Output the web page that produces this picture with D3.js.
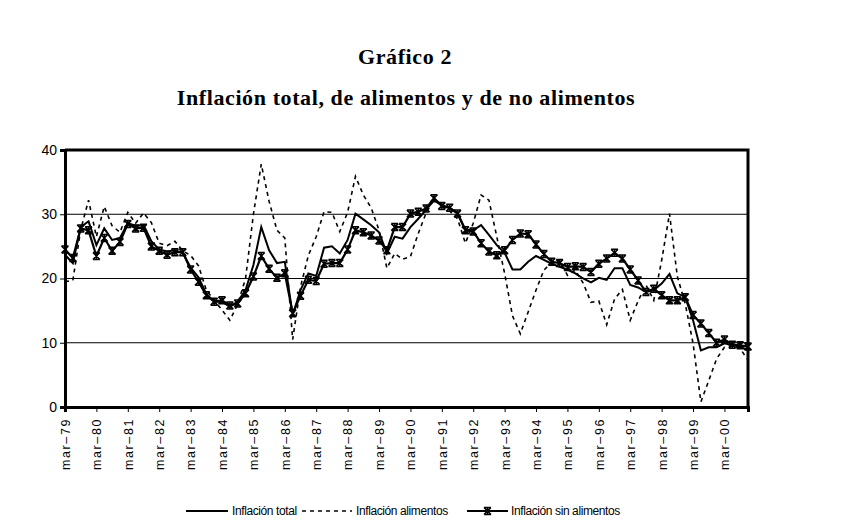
<!DOCTYPE html>
<html>
<head>
<meta charset="utf-8">
<script src="https://cdn.jsdelivr.net/npm/d3@7"></script>
<style>
  body { margin: 0; background: #fff; }
  svg { display: block; }
</style>
</head>
<body>
<svg id="chart"></svg>
<script>
// quarters from mar-79 to dic-00
const years = ["79","80","81","82","83","84","85","86","87","88","89","90","91","92","93","94","95","96","97","98","99","00"];
const months = ["mar","jun","sep","dic"];
const quarters = years.flatMap(y => months.map(m => m + "-" + y));

const yTicks = [0, 10, 20, 30, 40];

const total = [
  23.7, 22.4, 28.0, 28.9, 25.2, 27.8, 26.0, 26.3, 28.6, 28.2, 28.3, 25.8,
  24.5, 24.2, 24.4, 24.0, 21.7, 20.2, 17.6, 16.4, 16.4, 15.6, 16.4, 18.2,
  22.1, 28.0, 24.4, 22.4, 22.6, 14.3, 18.2, 20.8, 20.4, 24.8, 25.0, 23.9,
  26.0, 30.1, 29.2, 28.3, 27.2, 23.9, 26.5, 26.2, 28.0, 29.3, 30.7, 32.2,
  31.4, 31.0, 30.2, 27.6, 27.5, 28.3, 26.8, 25.2, 24.0, 21.4, 21.4, 22.6,
  23.5, 22.9, 22.3, 21.8, 21.4, 20.8, 20.0, 19.4, 20.1, 19.8, 21.6, 21.6,
  19.0, 18.6, 17.9, 18.2, 19.2, 20.7, 17.7, 17.1, 13.5, 8.8, 9.3, 9.3,
  9.9, 9.6, 9.4, 8.8
];

const alimentos = [
  19.5, 19.7, 27.6, 32.2, 26.5, 31.2, 28.2, 27.2, 30.3, 28.6, 30.2, 28.7,
  25.5, 25.1, 25.8, 24.3, 23.6, 22.0, 18.2, 16.6, 15.1, 13.5, 16.0, 20.0,
  30.0, 37.8, 32.0, 27.5, 26.3, 10.5, 18.7, 23.6, 26.5, 30.4, 30.3, 27.3,
  30.3, 35.9, 33.0, 31.0, 27.5, 21.6, 23.9, 23.0, 23.4, 27.0, 30.2, 32.3,
  31.3, 30.5, 29.3, 25.5, 28.6, 33.0, 32.2, 26.5, 20.8, 14.2, 11.4, 14.8,
  18.2, 21.3, 22.5, 22.8, 20.5, 21.3, 19.3, 16.3, 16.5, 12.8, 16.8, 18.3,
  13.5, 16.5, 19.0, 16.6, 22.8, 30.1, 20.3, 16.1, 9.9, 0.8, 4.1, 7.5,
  9.3, 9.6, 9.1, 7.3
];

const sinAlimentos = [
  24.5, 23.2, 27.8, 27.5, 23.5, 26.3, 24.3, 25.7, 28.5, 27.8, 27.9, 25.0,
  24.3, 23.7, 24.1, 24.1, 21.4, 19.5, 17.4, 16.4, 16.6, 15.8, 16.1, 17.7,
  20.3, 23.5, 21.5, 20.1, 20.8, 14.6, 17.3, 19.8, 19.6, 22.3, 22.4, 22.4,
  24.5, 27.5, 27.2, 26.7, 25.9, 24.4, 28.0, 28.0, 30.1, 30.4, 30.9, 32.5,
  31.3, 31.0, 30.1, 27.5, 27.3, 25.5, 24.2, 23.6, 24.4, 26.0, 27.0, 26.9,
  25.3, 23.8, 22.6, 22.4, 21.8, 21.9, 21.8, 21.0, 22.3, 23.1, 24.0, 23.1,
  21.4, 19.7, 17.9, 18.4, 17.4, 16.6, 16.6, 17.1, 14.3, 13.0, 11.5, 10.0,
  10.5, 9.7, 9.6, 9.4
];

const seriesNames = ["Inflación total", "Inflación alimentos", "Inflación sin alimentos"];

const width = 845, height = 529;
const margin = {top: 150, right: 97, bottom: 122, left: 65};

const svg = d3.select("#chart")
  .attr("width", width)
  .attr("height", height);

// titles
svg.append("text")
  .attr("x", 405).attr("y", 64)
  .attr("text-anchor", "middle")
  .style("font-family", "'Liberation Serif', 'Times New Roman', serif")
  .style("font-weight", "bold")
  .style("font-size", "22px")
  .style("letter-spacing", "0.6px")
  .text("Gráfico 2");

svg.append("text")
  .attr("x", 406).attr("y", 105)
  .attr("text-anchor", "middle")
  .style("font-family", "'Liberation Serif', 'Times New Roman', serif")
  .style("font-weight", "bold")
  .style("font-size", "22px")
  .style("letter-spacing", "0.6px")
  .text("Inflación total, de alimentos y de no alimentos");

const x = d3.scalePoint()
  .domain(quarters)
  .range([margin.left, width - margin.right]);

const y = d3.scaleLinear()
  .domain([0, 40])
  .range([height - margin.bottom, margin.top]);

const chart = svg.append("g");

// gridlines
chart.selectAll("line.grid")
  .data(yTicks.filter(d => d > 0 && d < 40))
  .join("line")
    .attr("class", "grid")
    .attr("x1", margin.left).attr("x2", width - margin.right)
    .attr("y1", d => y(d)).attr("y2", d => y(d))
    .attr("stroke", "#000")
    .attr("stroke-width", 1);

// plot frame (top and right)
chart.append("path")
  .attr("d", `M${margin.left},${y(40)}H${width - margin.right}V${y(0)}`)
  .attr("fill", "none")
  .attr("stroke", "#000")
  .attr("stroke-width", 3);

// y axis
const yAxis = svg.append("g")
  .attr("transform", `translate(${margin.left},0)`)
  .call(d3.axisLeft(y).tickValues(yTicks).tickSize(5).tickPadding(3));
yAxis.select(".domain").attr("stroke-width", 3);
yAxis.selectAll("text")
  .style("font-family", "'Liberation Sans', Arial, sans-serif")
  .style("font-size", "14px")
  .attr("fill", "#000");

// x axis
const xAxis = svg.append("g")
  .attr("transform", `translate(0,${y(0)})`)
  .call(d3.axisBottom(x)
    .tickValues(quarters.filter((d, i) => i % 4 === 0))
    .tickSize(5)
    .tickFormat(d => d.replace("-", "–")));
xAxis.select(".domain").attr("stroke-width", 3);
xAxis.selectAll("text")
  .attr("transform", "rotate(-90)")
  .attr("text-anchor", "end")
  .attr("x", -11)
  .attr("y", 0)
  .attr("dy", "0.35em")
  .style("font-family", "'Liberation Sans', Arial, sans-serif")
  .style("font-size", "12.5px")
  .style("letter-spacing", "1.6px")
  .attr("fill", "#000");

const line = d3.line()
  .x((d, i) => x(quarters[i]))
  .y(d => y(d));

const starPath = "M-3.5,-3.5L3.5,3.5M3.5,-3.5L-3.5,3.5M-3.5,-3.5H3.5M-3.5,3.5H3.5M0,-3.5V3.5";

// series
chart.append("path")
  .datum(total)
  .attr("d", line)
  .attr("fill", "none")
  .attr("stroke", "#000")
  .attr("stroke-width", 2);

chart.append("path")
  .datum(alimentos)
  .attr("d", line)
  .attr("fill", "none")
  .attr("stroke", "#000")
  .attr("stroke-width", 1.6)
  .attr("stroke-dasharray", "4,4");

chart.append("path")
  .datum(sinAlimentos)
  .attr("d", line)
  .attr("fill", "none")
  .attr("stroke", "#000")
  .attr("stroke-width", 2.2);

chart.selectAll("path.star")
  .data(sinAlimentos)
  .join("path")
    .attr("class", "star")
    .attr("transform", (d, i) => `translate(${x(quarters[i])},${y(d)})`)
    .attr("d", starPath)
    .attr("fill", "none")
    .attr("stroke", "#000")
    .attr("stroke-width", 1.5);

// legend
const legendItems = [
  {name: seriesNames[0], x1: 186, x2: 228, tx: 232, dash: null, w: 2, star: false},
  {name: seriesNames[1], x1: 302, x2: 352, tx: 356, dash: "4,4", w: 1.6, star: false},
  {name: seriesNames[2], x1: 467, x2: 508, tx: 511, dash: null, w: 2.2, star: true}
];
const legend = svg.append("g").attr("transform", "translate(0,511)");
legendItems.forEach(d => {
  legend.append("line")
    .attr("x1", d.x1).attr("x2", d.x2)
    .attr("y1", 0).attr("y2", 0)
    .attr("stroke", "#000")
    .attr("stroke-width", d.w)
    .attr("stroke-dasharray", d.dash);
  if (d.star) {
    legend.append("path")
      .attr("transform", `translate(${(d.x1 + d.x2) / 2},0)`)
      .attr("d", starPath)
      .attr("fill", "none")
      .attr("stroke", "#000")
      .attr("stroke-width", 1.5);
  }
  legend.append("text")
    .attr("x", d.tx).attr("y", 0)
    .attr("dy", "0.35em")
    .style("font-family", "'Liberation Sans', Arial, sans-serif")
    .style("font-size", "12px")
    .style("letter-spacing", "-0.4px")
    .text(d.name);
});
</script>
</body>
</html>
